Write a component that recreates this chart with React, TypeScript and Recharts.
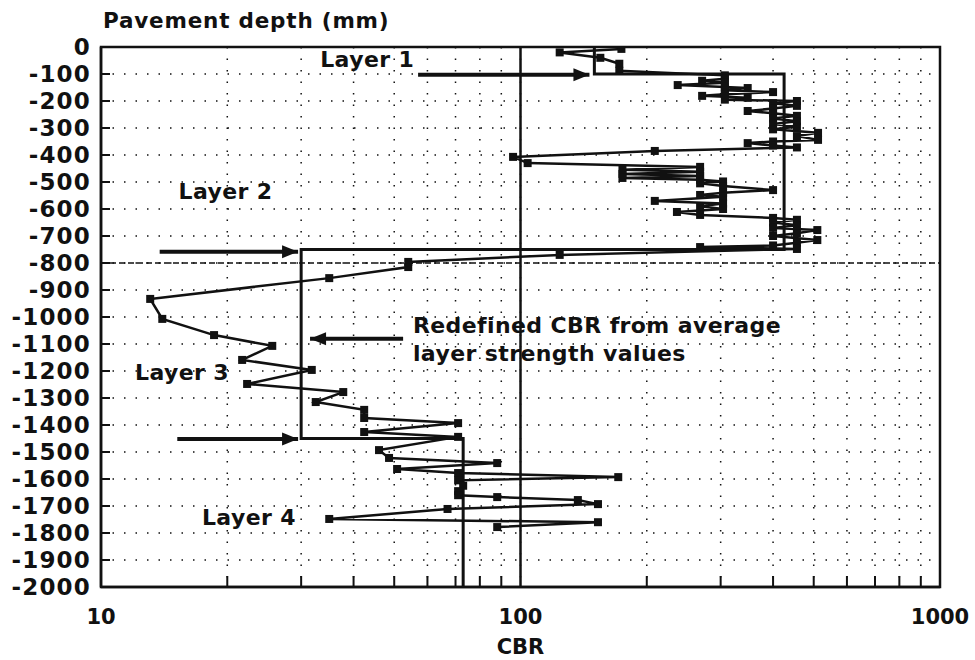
import React from 'react';
import {
  ScatterChart,
  Scatter,
  XAxis,
  YAxis,
  CartesianGrid,
  ReferenceLine,
  ReferenceArea,
} from 'recharts';

// measured CBR profile, one pair of arrays per layer (depth in mm, CBR in %)
const layer1Depth = [-7, -20, -40, -62, -88];
const layer1Cbr = [174, 124, 155, 172, 172];

const layer2Depth = [
  -105, -118, -125, -132, -141, -148, -152, -160, -167, -175, -181, -188, -195, -200, -208,
  -218, -228, -237, -245, -255, -265, -275, -285, -295, -305, -318, -330, -344, -350, -356,
  -365, -372, -385, -407, -430, -444, -455, -462, -470, -478, -485, -492, -498, -505, -515,
  -530, -540, -548, -555, -570, -580, -590, -600, -611, -622, -633, -640, -650, -660, -670,
  -678, -690, -700, -715, -725, -735, -741, -748,
];
const layer2Cbr = [
  307, 307, 271, 307, 237, 307, 348, 307, 400, 307, 271, 348, 307, 456, 400,
  456, 400, 348, 400, 456, 400, 456, 400, 456, 400, 512, 456, 512, 400, 348,
  400, 456, 209, 96, 104, 268, 175, 268, 175, 268, 175, 268, 304, 268, 304,
  400, 304, 268, 304, 209, 304, 268, 304, 236, 268, 400, 456, 400, 456, 400,
  510, 456, 400, 510, 456, 400, 268, 456,
];

const layer3Depth = [
  -770, -796, -815, -856, -933, -1007, -1067, -1107, -1159, -1196, -1248, -1278, -1315, -1344,
  -1374, -1393, -1426, -1444,
];
const layer3Cbr = [124, 54, 54, 35, 13.1, 14, 18.6, 25.6, 21.7, 31.8, 22.3, 37.8, 32.5, 42.4, 42.4, 71, 42.4, 71];

const layer4Depth = [
  -1493, -1522, -1541, -1563, -1578, -1593, -1605, -1625, -1645, -1660, -1667, -1678, -1693,
  -1711, -1748, -1760, -1778,
];
const layer4Cbr = [46, 48.6, 88, 50.8, 71, 171, 71, 73, 71, 71, 88, 137, 153, 67, 35, 153, 88];

// redefined CBR from average layer strength (step profile)
const stepDepth = [0, -100, -100, -750, -750, -1450, -1450, -2000];
const stepCbr = [150, 150, 425, 425, 30, 30, 73, 73];

// annotation arrows
const arrowDepth = [-103, -758, -1452, -1081];
const arrowFrom = [57, 13.8, 15.2, 52.5];
const arrowTo = [146, 29.5, 29.5, 31.5];

// annotation texts
const noteText = ['Layer 1', 'Layer 2', 'Layer 3', 'Layer 4', 'Redefined CBR from average', 'layer strength values'];
const noteCbr = [33.3, 15.3, 12.05, 17.4, 55.4, 55.4];
const noteDepth = [-48, -537, -1207, -1744, -1033, -1137];

const cbrTicks = [10, 20, 30, 40, 50, 60, 70, 80, 90, 100, 200, 300, 400, 500, 600, 700, 800, 900, 1000];
const cbrLabels = [10, 100, 1000];
const depthTicks = [
  0, -100, -200, -300, -400, -500, -600, -700, -800, -900, -1000, -1100, -1200, -1300, -1400,
  -1500, -1600, -1700, -1800, -1900, -2000,
];

const INK = '#111';
const FONT = '"DejaVu Sans", "Liberation Sans", sans-serif';

const pts = (cbr: number[], depth: number[]) => cbr.map((c, i) => ({ x: c, y: depth[i] }));

const measured = [
  ...pts(layer1Cbr, layer1Depth),
  ...pts(layer2Cbr, layer2Depth),
  ...pts(layer3Cbr, layer3Depth),
  ...pts(layer4Cbr, layer4Depth),
];
const step = pts(stepCbr, stepDepth);
const arrows = arrowDepth.map((d, i) => [
  { x: arrowFrom[i], y: d, head: 0 },
  { x: arrowTo[i], y: d, head: arrowTo[i] > arrowFrom[i] ? 1 : -1 },
]);
const notes = noteText.map((t, i) => ({ x: noteCbr[i], y: noteDepth[i], text: t }));

const Square = (p: any) => <rect x={p.cx - 4} y={p.cy - 4} width={8} height={8} fill={INK} />;
const Nothing = () => <g />;

const ArrowHead = (p: any) => {
  const dir = p.payload.head;
  if (!dir) return <g />;
  const len = 16;
  return (
    <polygon
      points={`${p.cx},${p.cy} ${p.cx - dir * len},${p.cy - 6.5} ${p.cx - dir * len},${p.cy + 6.5}`}
      fill={INK}
    />
  );
};

const Note = (p: any) => (
  <text
    x={p.cx}
    y={p.cy}
    dominantBaseline="central"
    fontFamily={FONT}
    fontWeight="bold"
    fontSize={22}
    letterSpacing={0.4}
    fill={INK}
  >
    {p.payload.text}
  </text>
);

const DepthTick = (p: any) => (
  <g>
    <line x1={p.x} y1={p.y} x2={p.x + 9} y2={p.y} stroke={INK} strokeWidth={2} />
    <text
      x={p.x - 10}
      y={p.y}
      textAnchor="end"
      dominantBaseline="central"
      fontFamily={FONT}
      fontWeight="bold"
      fontSize={23}
      letterSpacing={1.2}
      fill={INK}
    >
      {p.payload.value === 0 ? '0' : `-${Math.abs(p.payload.value)}`}
    </text>
  </g>
);

const CbrTick = (p: any) => {
  const v = p.payload.value;
  const major = cbrLabels.includes(v);
  return (
    <g>
      {!major && <line x1={p.x} y1={p.y} x2={p.x} y2={p.y - 11} stroke={INK} strokeWidth={2} />}
      {major && (
        <text
          x={p.x}
          y={p.y + 30}
          textAnchor="middle"
          dominantBaseline="central"
          fontFamily={FONT}
          fontWeight="bold"
          fontSize={21}
          fill={INK}
        >
          {v}
        </text>
      )}
    </g>
  );
};

export default function App() {
  return (
    <div style={{ position: 'absolute', left: 0, top: 0, width: 975, height: 660, background: '#fff' }}>
      <ScatterChart width={975} height={660} margin={{ top: 47, right: 35, bottom: 0, left: 0 }}>
        <CartesianGrid stroke={INK} strokeWidth={1.5} strokeDasharray="1.5 10" />
        <XAxis
          type="number"
          dataKey="x"
          scale="log"
          domain={[10, 1000]}
          ticks={cbrTicks}
          interval={0}
          height={73}
          tickSize={0}
          tickMargin={0}
          tickLine={false}
          axisLine={{ stroke: INK, strokeWidth: 2.5 }}
          tick={<CbrTick />}
          allowDataOverflow
          label={{
            content: (props: any) => (
              <text
                x={props.viewBox.x + props.viewBox.width / 2}
                y={props.viewBox.y + 60}
                textAnchor="middle"
                dominantBaseline="central"
                fontFamily={FONT}
                fontWeight="bold"
                fontSize={21}
                fill={INK}
              >
                CBR
              </text>
            ),
          }}
        />
        <YAxis
          type="number"
          dataKey="y"
          domain={[-2000, 0]}
          ticks={depthTicks}
          interval={0}
          width={101}
          tickSize={0}
          tickMargin={0}
          tickLine={false}
          axisLine={{ stroke: INK, strokeWidth: 2.5 }}
          tick={<DepthTick />}
          allowDataOverflow
          label={{
            content: (props: any) => (
              <text
                x={props.viewBox.x + props.viewBox.width + 2}
                y={props.viewBox.y - 27}
                dominantBaseline="central"
                fontFamily={FONT}
                fontWeight="bold"
                fontSize={21.5}
                letterSpacing={0.8}
                fill={INK}
              >
                Pavement depth (mm)
              </text>
            ),
          }}
        />
        <ReferenceArea x1={10} x2={1000} y1={-2000} y2={0} fill="none" stroke={INK} strokeWidth={2.5} />
        <ReferenceLine y={-800} stroke={INK} strokeWidth={1.5} strokeDasharray="6 3" />
        <ReferenceLine x={100} stroke={INK} strokeWidth={2.5} />
        <Scatter
          data={step}
          line={{ stroke: INK, strokeWidth: 3 }}
          shape={<Nothing />}
          isAnimationActive={false}
        />
        <Scatter
          data={measured}
          line={{ stroke: INK, strokeWidth: 2.5 }}
          shape={<Square />}
          isAnimationActive={false}
        />
        {arrows.map((a, i) => (
          <Scatter
            key={i}
            data={a}
            line={{ stroke: INK, strokeWidth: 4 }}
            shape={<ArrowHead />}
            isAnimationActive={false}
          />
        ))}
        <Scatter data={notes} shape={<Note />} isAnimationActive={false} />
      </ScatterChart>
    </div>
  );
}
